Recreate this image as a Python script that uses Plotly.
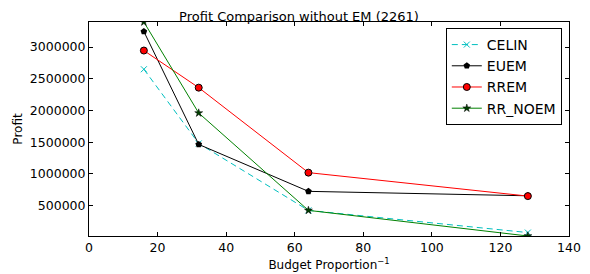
import plotly.graph_objects as go

budget = [16, 32, 64, 128]
celin = [2650000, 1480000, 425000, 75000]
euem = [3245000, 1465000, 725000, 655000]
rrem = [2945000, 2360000, 1020000, 650000]
rr_noem = [3395000, 1960000, 425000, 21000]

fig = go.Figure()
fig.add_trace(go.Scatter(x=budget, y=celin, name="CELIN", mode="lines+markers",
                         line=dict(color="#00BFBF", width=1, dash="6px,4px"),
                         marker=dict(symbol="x-thin", size=6, color="#00BFBF",
                                     line=dict(color="#00BFBF", width=1))))
fig.add_trace(go.Scatter(x=budget, y=euem, name="EUEM", mode="lines+markers",
                         line=dict(color="black", width=1),
                         marker=dict(symbol="pentagon", size=7, color="black")))
fig.add_trace(go.Scatter(x=budget, y=rrem, name="RREM", mode="lines+markers",
                         line=dict(color="red", width=1),
                         marker=dict(symbol="circle", size=7, color="red",
                                     line=dict(color="black", width=1))))
fig.add_trace(go.Scatter(x=budget, y=rr_noem, name="RR_NOEM", mode="lines+markers",
                         line=dict(color="green", width=1),
                         marker=dict(symbol="star", size=6, color="#004000",
                                     line=dict(color="black", width=0.5))))

font = "DejaVu Sans"
fig.update_layout(
    width=582, height=266,
    margin=dict(l=81, r=21, t=14, b=38, autoexpand=False),
    paper_bgcolor="white", plot_bgcolor="white",
    font=dict(family=font, size=12, color="black"),
    title=dict(text="Profit Comparison without EM (2261)", x=0.5, xanchor="center",
               y=1, yref="paper", yanchor="bottom", pad=dict(b=1),
               font=dict(size=13, family=font)),
    showlegend=True,
    legend=dict(x=0.985, y=0.972, xanchor="right", yanchor="top",
                bgcolor="white", bordercolor="black", borderwidth=1,
                font=dict(size=14, family=font), tracegroupgap=0, itemwidth=30),
)
fig.update_xaxes(range=[0, 140], tickvals=[0, 20, 40, 60, 80, 100, 120, 140],
                 ticks="inside", ticklen=4, tickcolor="black", showline=True,
                 linecolor="black", linewidth=1, mirror="ticks", showgrid=False,
                 zeroline=False, tickfont=dict(size=12.5), automargin=False,
                 title=dict(text="Budget Proportion<sup>−1</sup>", standoff=6,
                            font=dict(size=12)))
fig.update_yaxes(range=[21000, 3395000],
                 tickvals=[500000, 1000000, 1500000, 2000000, 2500000, 3000000],
                 ticktext=["500000", "1000000", "1500000", "2000000", "2500000", "3000000"],
                 ticks="inside", ticklen=4, tickcolor="black", showline=True,
                 linecolor="black", linewidth=1, mirror="ticks", showgrid=False,
                 zeroline=False, tickfont=dict(size=12.5), automargin=False,
                 title=dict(text="Profit", standoff=4, font=dict(size=12)))

fig.write_html("out.html")
